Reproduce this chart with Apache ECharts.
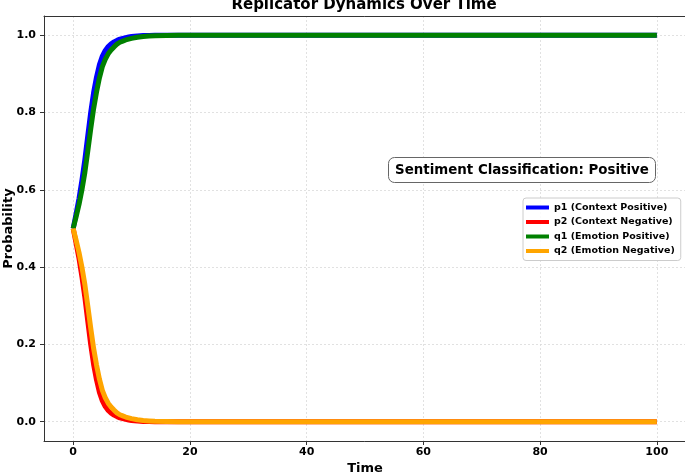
<!DOCTYPE html>
<html>
<head>
<meta charset="utf-8">
<script src="https://cdn.jsdelivr.net/npm/echarts@6/dist/echarts.min.js"></script>
<style>html,body{margin:0;padding:0;background:#fff;}#c{width:685px;height:474px;}</style>
</head>
<body>
<div id="c"></div>
<script>
const timeValues = [0,0.5,1,1.5,2,2.5,3,3.5,4,4.5,5,5.5,6,6.5,7,7.5,8,8.5,9,9.5,10,11,12,13,14,16,18,20,30,40,50,60,70,80,90,100];
const p1 = [0.5,0.538,0.578,0.625,0.678,0.74,0.80,0.852,0.892,0.924,0.946,0.961,0.971,0.978,0.983,0.987,0.990,0.992,0.994,0.9955,0.9968,0.9984,0.9993,0.9997,0.9999,1,1,1,1,1,1,1,1,1,1,1];
const p2 = [0.5,0.462,0.422,0.375,0.322,0.26,0.20,0.148,0.108,0.076,0.054,0.039,0.029,0.022,0.017,0.013,0.010,0.008,0.006,0.0045,0.0032,0.0016,0.0007,0.0003,0.0001,0,0,0,0,0,0,0,0,0,0,0];
const q1 = [0.5,0.53,0.562,0.6,0.645,0.70,0.757,0.81,0.853,0.89,0.919,0.938,0.952,0.962,0.970,0.977,0.982,0.985,0.988,0.990,0.992,0.995,0.997,0.998,0.999,0.9997,1,1,1,1,1,1,1,1,1,1];
const q2 = [0.5,0.47,0.438,0.4,0.355,0.30,0.243,0.19,0.147,0.11,0.081,0.062,0.048,0.038,0.030,0.023,0.018,0.015,0.012,0.010,0.008,0.005,0.003,0.002,0.001,0.0003,0,0,0,0,0,0,0,0,0,0];
const seriesNames = ['p1 (Context Positive)','p2 (Context Negative)','q1 (Emotion Positive)','q2 (Emotion Negative)'];
const seriesColors = ['#0000ff','#ff0000','#008000','#ffa500'];
const xTicks = [0,20,40,60,80,100];
const yTicks = [0,0.2,0.4,0.6,0.8,1.0];
const titleText = 'Replicator Dynamics Over Time';
const annotationText = 'Sentiment Classification: Positive';

const F = 'DejaVu Sans';
const allSeries = [p1,p2,q1,q2];
const chart = echarts.init(document.getElementById('c'));
chart.setOption({
  animation: false,
  backgroundColor: '#fff',
  textStyle: {fontFamily: F},
  title: [
    {text: titleText, left: 364, textAlign: 'center', top: -2, padding: 0,
     textStyle: {fontFamily: F, fontWeight: 'bold', fontSize: 15, color: '#000'}},
    {text: annotationText, left: 388, top: 157, padding: [6, 7, 5, 7],
     backgroundColor: '#fff', borderColor: '#666', borderWidth: 1, borderRadius: 6,
     textStyle: {fontFamily: F, fontWeight: 'bold', fontSize: 13.4, color: '#000', lineHeight: 15}}
  ],
  legend: {
    orient: 'vertical', left: 523, top: 198,
    data: seriesNames, icon: 'rect', itemWidth: 23, itemHeight: 4, itemGap: 3.5,
    padding: [4, 6, 4, 3],
    backgroundColor: 'rgba(255,255,255,0.85)', borderColor: '#ccc', borderWidth: 1, borderRadius: 3,
    textStyle: {fontFamily: F, fontWeight: 'bold', fontSize: 9.5, color: '#000', lineHeight: 11}
  },
  grid: {left: 44, right: -1, top: 16, bottom: 33, outerBoundsMode: 'none', containLabel: false, show: false},
  xAxis: [{
    type: 'value', min: -5, max: 105,
    name: 'Time', nameLocation: 'middle', nameGap: 21, nameMoveOverlap: false,
    nameTextStyle: {fontFamily: F, fontWeight: 'bold', fontSize: 13, color: '#000'},
    axisLine: {show: true, onZero: false, lineStyle: {color: '#333', width: 1}},
    axisTick: {show: true, length: 4, customValues: xTicks, lineStyle: {color: '#333'}},
    axisLabel: {customValues: xTicks, margin: 6, fontFamily: F, fontWeight: 'bold', fontSize: 11, color: '#000'},
    splitLine: {show: true, lineStyle: {color: '#dadada', type: [2, 2], width: 0.8}}
  }, {
    type: 'value', min: -5, max: 105, position: 'top',
    axisLine: {show: true, onZero: false, lineStyle: {color: '#333', width: 1}},
    axisTick: {show: false}, axisLabel: {show: false}, splitLine: {show: false}
  }],
  yAxis: {
    type: 'value', min: -0.05, max: 1.05,
    name: 'Probability', nameLocation: 'middle', nameGap: 29, nameRotate: 90, nameMoveOverlap: false,
    nameTextStyle: {fontFamily: F, fontWeight: 'bold', fontSize: 13, color: '#000'},
    axisLine: {show: true, onZero: false, lineStyle: {color: '#333', width: 1}},
    axisTick: {show: true, length: 4, customValues: yTicks, lineStyle: {color: '#333'}},
    axisLabel: {customValues: yTicks, margin: 8, fontFamily: F, fontWeight: 'bold', fontSize: 11, color: '#000',
      formatter: v => v.toFixed(1)},
    splitLine: {show: true, lineStyle: {color: '#dadada', type: [2, 2], width: 0.8}}
  },
  series: allSeries.map((arr, i) => ({
    name: seriesNames[i], type: 'line', showSymbol: false, symbol: 'none',
    smooth: false, xAxisIndex: 0,
    data: timeValues.map((t, j) => [t, arr[j]]),
    lineStyle: {color: seriesColors[i], width: 5, join: 'round', cap: 'butt'},
    itemStyle: {color: seriesColors[i]},
    z: 2 + i
  }))
});
</script>
</body>
</html>
